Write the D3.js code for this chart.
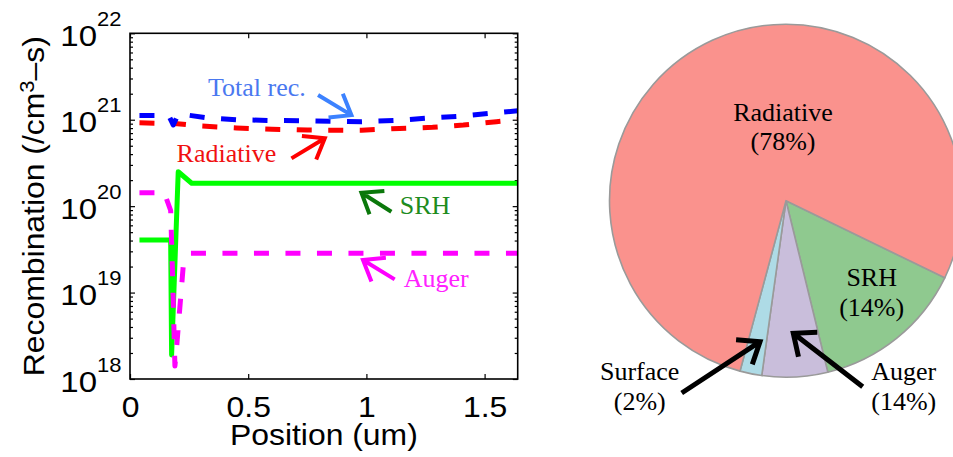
<!DOCTYPE html>
<html>
<head>
<meta charset="utf-8">
<script src="https://cdn.jsdelivr.net/npm/d3@7"></script>
<style>
  html, body { margin: 0; padding: 0; background: #fff; }
  svg { display: block; }
</style>
</head>
<body>
<svg id="fig" width="953" height="457"></svg>
<script>
// ---- Recombination profiles along the device (position in um, rate in /cm^3-s) ----
const totalX = [0.04, 0.12, 0.165, 0.183, 0.205, 0.33, 0.45, 0.6, 0.75, 0.98, 1.12, 1.25, 1.4, 1.53, 1.64];
const totalY = [1.12e21, 1.12e21, 1.1e21, 8.7e20, 1.17e21, 1.05e21, 1.0e21, 9.8e20, 9.7e20, 9.5e20, 9.8e20, 1.04e21, 1.1e21, 1.19e21, 1.27e21];

const radX = [0.04, 0.2, 0.3, 0.45, 0.6, 0.75, 0.98, 1.14, 1.28, 1.41, 1.55, 1.64];
const radY = [9.2e20, 9.0e20, 8.45e20, 8.04e20, 7.76e20, 7.59e20, 7.55e20, 7.94e20, 8.17e20, 8.69e20, 9.48e20, 1.0e21];

const srhX = [0.04, 0.172, 0.176, 0.204, 0.261, 1.64];
const srhY = [4.06e19, 4.06e19, 1.9e18, 2.5e20, 1.84e20, 1.84e20];

const augerX = [0.04, 0.145, 0.172, 0.18, 0.19, 0.197, 0.225, 0.255, 1.64];
const augerY = [1.43e20, 1.43e20, 8.9e19, 1.6e19, 1.41e18, 2.3e18, 2.0e19, 2.85e19, 2.85e19];

// axis ticks
const xTicks = [0, 0.5, 1, 1.5];
const xTickLabels = ["0", "0.5", "1", "1.5"];
const yTicks = [1e18, 1e19, 1e20, 1e21, 1e22];
const yTickExponents = ["18", "19", "20", "21", "22"];

// ---- Share of total recombination ----
const pieNames = ["SRH", "Auger", "Surface", "Radiative"];
const pieShares = [14, 6, 2, 78];
const pieLabels = ["(14%)", "(14%)", "(2%)", "(78%)"];

// ---------------------------------------------------------------------------
const svg = d3.select("#fig");
const SANS = "'Liberation Sans', Arial, Helvetica, sans-serif";
const SERIF = "'Liberation Serif', 'Times New Roman', Times, serif";
const SX = 1.1; // horizontal widening of the sans labels

const plot = { left: 130, right: 517.7, top: 33.3, bottom: 379 };
const x = d3.scaleLinear().domain([0, 1.64]).range([plot.left, plot.right]);
const y = d3.scaleLog().domain([1e18, 1e22]).range([plot.bottom, plot.top]);

const minorTicks = [];
for (let e = 18; e < 22; e++) for (let m = 2; m <= 9; m++) minorTicks.push(m * Math.pow(10, e));

const axes = svg.append("g");

function strip(g) { g.select(".domain").remove(); g.selectAll("line").attr("stroke", "#000").attr("stroke-width", 1.2); }

// bottom axis with labels
axes.append("g").attr("transform", `translate(0,${plot.bottom})`)
  .call(d3.axisBottom(x).tickValues(xTicks).tickSizeInner(-5).tickSizeOuter(0)
    .tickFormat((d, i) => xTickLabels[i]))
  .call(strip)
  .call(g => g.selectAll("text")
    .attr("y", 0).attr("dy", 0)
    .attr("transform", `translate(0,37.5) scale(${SX},1)`)
    .attr("fill", "#000").attr("font-family", SANS).attr("font-size", 29));

// top axis (ticks only)
axes.append("g").attr("transform", `translate(0,${plot.top})`)
  .call(d3.axisTop(x).tickValues(xTicks).tickSizeInner(-5).tickSizeOuter(0).tickFormat(""))
  .call(strip);

// left axis, major and minor
const yl = axes.append("g").attr("transform", `translate(${plot.left},0)`)
  .call(d3.axisLeft(y).tickValues(yTicks).tickSizeInner(-5).tickSizeOuter(0).tickFormat(""))
  .call(strip);
yl.selectAll(".tick text").remove();
yl.selectAll(".tick").append("text")
  .attr("transform", `translate(-8.5,12) scale(${SX},1)`)
  .attr("text-anchor", "end").attr("font-family", SANS).attr("fill", "#000")
  .each(function (d, i) {
    const t = d3.select(this);
    t.append("tspan").attr("font-size", 30).text("10");
    t.append("tspan").attr("font-size", 20).attr("dy", -20).text(yTickExponents[i]);
  });
axes.append("g").attr("transform", `translate(${plot.left},0)`)
  .call(d3.axisLeft(y).tickValues(minorTicks).tickSizeInner(-3).tickSizeOuter(0).tickFormat(""))
  .call(strip);

// right axis, major and minor
axes.append("g").attr("transform", `translate(${plot.right},0)`)
  .call(d3.axisRight(y).tickValues(yTicks).tickSizeInner(-5).tickSizeOuter(0).tickFormat(""))
  .call(strip);
axes.append("g").attr("transform", `translate(${plot.right},0)`)
  .call(d3.axisRight(y).tickValues(minorTicks).tickSizeInner(-3).tickSizeOuter(0).tickFormat(""))
  .call(strip);

// curves
const series = [
  { xs: radX, ys: radY, color: "#ff0000", dash: "15,16.5" },
  { xs: totalX, ys: totalY, color: "#0000ff", dash: "15,16.5" },
  { xs: srhX, ys: srhY, color: "#00ff00", dash: null },
  { xs: augerX, ys: augerY, color: "#ff00ff", dash: "15,16.5" }
];
const line = d3.line().x(d => x(d[0])).y(d => y(d[1]));
const curves = svg.append("g");
series.forEach(s => {
  curves.append("path")
    .datum(s.xs.map((v, i) => [v, s.ys[i]]))
    .attr("d", line)
    .attr("fill", "none")
    .attr("stroke", s.color)
    .attr("stroke-width", 5)
    .attr("stroke-linejoin", "round")
    .attr("stroke-dasharray", s.dash);
});

// frame
svg.append("rect")
  .attr("x", plot.left).attr("y", plot.top)
  .attr("width", plot.right - plot.left).attr("height", plot.bottom - plot.top)
  .attr("fill", "none").attr("stroke", "#000").attr("stroke-width", 1.6);

// axis titles
svg.append("text")
  .attr("transform", `translate(${(plot.left + plot.right) / 2},445) scale(${SX},1)`)
  .attr("text-anchor", "middle").attr("font-family", SANS).attr("font-size", 29).attr("fill", "#000")
  .text("Position (um)");

const yTitle = svg.append("text")
  .attr("transform", `translate(43.5,${(plot.top + plot.bottom) / 2}) rotate(-90) scale(${SX},1)`)
  .attr("text-anchor", "middle").attr("font-family", SANS).attr("font-size", 29).attr("fill", "#000");
yTitle.append("tspan").text("Recombination (/cm");
yTitle.append("tspan").attr("font-size", 20).attr("dy", -10).text("3");
yTitle.append("tspan").attr("dy", 10).text("\u2013s)");

// arrow helper: open V head drawn at the tip
function arrow(g, x0, y0, x1, y1, color, width, headLen, headAng) {
  const a = Math.atan2(y0 - y1, x0 - x1);
  const r = headAng * Math.PI / 180;
  const w1 = [x1 + headLen * Math.cos(a + r), y1 + headLen * Math.sin(a + r)];
  const w2 = [x1 + headLen * Math.cos(a - r), y1 + headLen * Math.sin(a - r)];
  g.append("path")
    .attr("d", `M${x0},${y0}L${x1},${y1}M${w1[0]},${w1[1]}L${x1},${y1}L${w2[0]},${w2[1]}`)
    .attr("fill", "none").attr("stroke", color).attr("stroke-width", width)
    .attr("stroke-linejoin", "miter").attr("stroke-linecap", "butt");
}

// curve annotations (positions in data units)
const notes = [
  { text: "Total rec.", tx: 0.33, ty: 1.88e21, color: "#4a78f0", arrowColor: "#3c82ff",
    from: [0.7955, 1.93e21], to: [0.9366, 1.13e21] },
  { text: "Radiative", tx: 0.197, ty: 3.27e20, color: "#f01010", arrowColor: "#ff0000",
    from: [0.683, 3.57e20], to: [0.824, 6.1e20] },
  { text: "SRH", tx: 1.141, ty: 8.1e19, color: "#1e8c1e", arrowColor: "#0b780b",
    from: [1.1056, 8.6e19], to: [0.979, 1.43e20] },
  { text: "Auger", tx: 1.158, ty: 1.16e19, color: "#ff22ff", arrowColor: "#ff00ff",
    from: [1.1196, 1.42e19], to: [0.9856, 2.38e19] }
];
const ann = svg.append("g");
notes.forEach(n => {
  ann.append("text").attr("x", x(n.tx)).attr("y", y(n.ty))
    .attr("font-family", SERIF).attr("font-size", 26).attr("fill", n.color).text(n.text);
  arrow(ann, x(n.from[0]), y(n.from[1]), x(n.to[0]), y(n.to[1]), n.arrowColor, 4, 23, 37);
});

// ---- pie ----
const pieC = { x: 786, y: 200.7, r: 176.5 };
const pieColors = { SRH: "#8fc98f", Auger: "#c9bedb", Surface: "#aedbe6", Radiative: "#fa928d" };
const startDeg = 115.9;
const pie = d3.pie().sort(null).value(d => d.v)
  .startAngle(startDeg * Math.PI / 180).endAngle(startDeg * Math.PI / 180 + 2 * Math.PI);
const arcs = pie(pieNames.map((n, i) => ({ name: n, v: pieShares[i] })));
const arc = d3.arc().innerRadius(0).outerRadius(pieC.r);
const pg = svg.append("g").attr("transform", `translate(${pieC.x},${pieC.y})`);
pg.selectAll("path").data(arcs).join("path")
  .attr("d", arc)
  .attr("fill", d => pieColors[d.data.name])
  .attr("stroke", "#9a9a9a").attr("stroke-width", 1.6).attr("stroke-linejoin", "round");

// slice labels (offsets from the pie centre, px)
const pieLabelPos = {
  Radiative: [-3, -80.2],
  SRH: [85.7, 85.3],
  Surface: [-146.3, 179.8],
  Auger: [117.8, 179.5]
};
pieNames.forEach((n, i) => {
  const [dx, dy] = pieLabelPos[n];
  const t = pg.append("text").attr("text-anchor", "middle")
    .attr("font-family", SERIF).attr("font-size", 26).attr("fill", "#000");
  t.append("tspan").attr("x", dx).attr("y", dy).text(n);
  t.append("tspan").attr("x", dx).attr("y", dy + 29.7).text(pieLabels[i]);
});

// pointers for the two thin slices
arrow(pg, -104.3, 192.3, -26, 141, "#000", 5, 24, 38);
arrow(pg, 76.7, 186, 7.3, 132.6, "#000", 5, 24, 40);
</script>
</body>
</html>
